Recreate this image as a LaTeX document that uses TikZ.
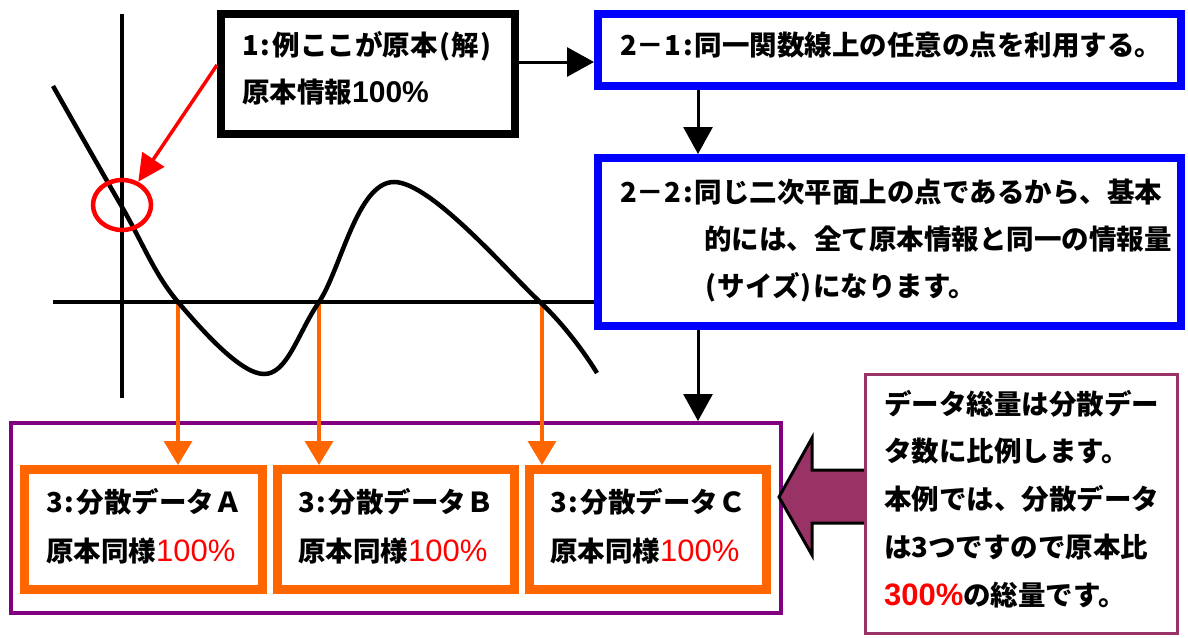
\documentclass[tikz,border=0pt]{standalone}
\usepackage{fontspec}
\setmainfont{Noto Sans CJK JP}
\newfontfamily\numfont{Liberation Sans}
\usetikzlibrary{arrows.meta,shapes.geometric}
\definecolor{bl}{RGB}{0,0,255}
\definecolor{orng}{RGB}{255,102,0}
\definecolor{purp}{RGB}{128,0,128}
\definecolor{plum}{RGB}{153,51,102}
\newcommand{\hw}[1]{\makebox[0.5em][c]{#1}}
\begin{document}
\begin{tikzpicture}[x=1pt,y=-1pt,
  txt/.style={inner sep=0pt, anchor=base west, font=\fontsize{27.5}{27.5}\selectfont\bfseries},
  frame/.style={draw, rectangle, inner sep=0pt, fill=white},
  arr/.style={line width=3pt, -{Triangle[length=27pt,width=29pt]}},
  oarr/.style={draw=orng, line width=3.5pt, -{Triangle[length=24pt,width=28pt]}}
]
\useasboundingbox (0,0) rectangle (1188,637);
% axis coordinates
\coordinate (ha) at (178,302);
\coordinate (hb) at (319,302);
\coordinate (hc) at (542,302);
% purple container and orange boxes
\node[frame, draw=purp, line width=4pt, minimum width=770pt, minimum height=190pt] (pbox) at (396,518) {};
\node[frame, draw=orng, line width=9pt, minimum width=238pt, minimum height=120pt] (oa) at (143.5,529.5) {};
\node[frame, draw=orng, line width=9pt, minimum width=237pt, minimum height=120pt] (ob) at (396,529.5) {};
\node[frame, draw=orng, line width=9pt, minimum width=237pt, minimum height=120pt] (oc) at (648,529.5) {};
% orange arrows
\draw[oarr] (ha) -- (oa.north -| ha);
\draw[oarr] (hb) -- (ob.north -| hb);
\draw[oarr] (hc) -- (oc.north -| hc);
% axes and curve
\draw[line width=3.5pt] (53,302) -- (596,302);
\draw[line width=3.5pt] (122,14) -- (122,398);
\draw[line width=4.5pt] plot[smooth, tension=0.6] coordinates {(53,86) (122,207) (178,302) (264,374) (319,302) (394,182) (540,302) (597,373)};
\node[draw=red, line width=4.5pt, ellipse, minimum width=58pt, minimum height=50pt, inner sep=0pt] (circ) at (122,205) {};
% boxes
\node[frame, line width=8pt, minimum width=294pt, minimum height=120pt] (b1) at (368,74) {};
\node[frame, draw=bl, line width=8pt, minimum width=583pt, minimum height=72pt] (b21) at (889.5,50) {};
\node[frame, draw=bl, line width=8pt, minimum width=583pt, minimum height=168pt] (b22) at (889.5,242) {};
% connectors
\draw[red, line width=3.5pt, -{Triangle[length=27pt,width=26pt]}] ([yshift=9pt]b1.west) -- (circ.55);
\draw[arr] ([yshift=12pt]b1.east) -- ([yshift=12pt]b1.east -| b21.west);
\draw[arr] (b21.south -| 698,0) -- (b22.north -| 698,0);
\draw[arr] (b22.south -| 698,0) -- (pbox.north -| 698,0);
% fat arrow
\draw[fill=plum, line width=3pt, line join=miter] (779,497) -- (812,438) -- (812,470) -- (866,470) -- (866,523) -- (812,523) -- (812,555) -- cycle;
\node[frame, draw=plum, line width=3pt, minimum width=312pt, minimum height=259pt] (rbox) at (1021.5,504) {};
% texts
\node[txt] (t1a) at (242,55) {1\hw{:}例ここが原本\hw{(}解\hw{)}};
\node[txt] (t1b) at (242,102) {原本情報{\numfont\fontsize{30}{30}\selectfont 100\%}};
\node[txt] (t21) at (620,55) {2－1\hw{:}同一関数線上の任意の点を利用する。};
\node[txt] (t22a) at (620,202) {2－2\hw{:}同じ二次平面上の点であるから、基本};
\node[txt] (t22b) at (704,249) {的には、全て原本情報と同一の情報量};
\node[txt] (t22c) at (704,296) {\hw{(}サイズ\hw{)}になります。};
\node[txt] (tAa) at (46,512) {3\hw{:}分散データＡ};
\node[txt] (tAb) at (46,561) {原本同様{\numfont\mdseries\color{red}\fontsize{31}{31}\selectfont 100\%}};
\node[txt] (tBa) at (298,512) {3\hw{:}分散データＢ};
\node[txt] (tBb) at (298,561) {原本同様{\numfont\mdseries\color{red}\fontsize{31}{31}\selectfont 100\%}};
\node[txt] (tCa) at (550,512) {3\hw{:}分散データＣ};
\node[txt] (tCb) at (550,561) {原本同様{\numfont\mdseries\color{red}\fontsize{31}{31}\selectfont 100\%}};
\node[txt] (r1) at (884,414) {データ総量は分散デー};
\node[txt] (r2) at (884,461) {タ数に比例します。};
\node[txt] (r3) at (884,509) {本例では、分散データ};
\node[txt] (r4) at (884,557) {は3つですので原本比};
\node[txt] (r5) at (884,605) {{\numfont\color{red}\fontsize{31}{31}\selectfont 300\%}の総量です。};
\end{tikzpicture}
\end{document}
